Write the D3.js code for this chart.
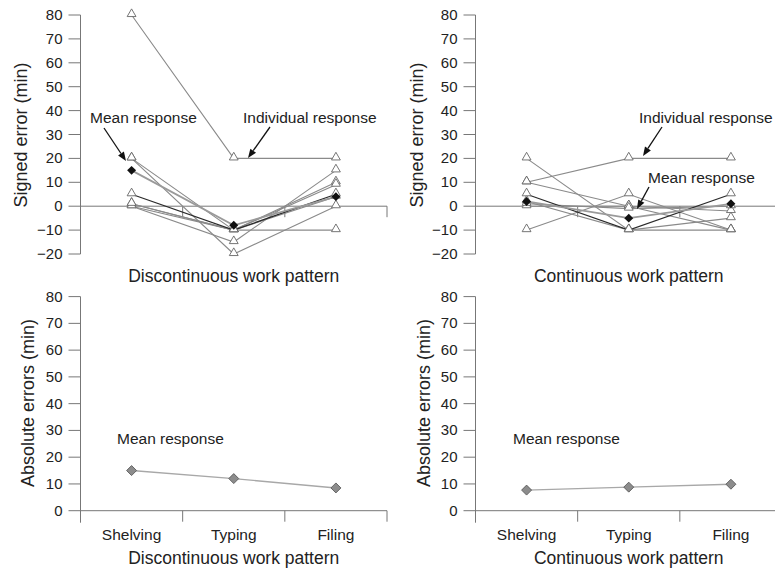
<!DOCTYPE html>
<html>
<head>
<meta charset="utf-8">
<script src="https://cdn.jsdelivr.net/npm/d3@7"></script>
<style>
  body { margin: 0; background: #fff; }
  svg text { font-family: "Liberation Sans", Arial, sans-serif; fill: #222; }
</style>
</head>
<body>
<svg id="chart" width="775" height="574"></svg>
<script>
// categories and ticks
var categories = ["Shelving", "Typing", "Filing"];
var signedTicks = [-20, -10, 0, 10, 20, 30, 40, 50, 60, 70, 80];
var absTicks = [0, 10, 20, 30, 40, 50, 60, 70, 80];

// signed errors, one row per individual (shelving, typing, filing)
var discIndividual = [
    [80, 20, 20],
    [20, -20, 0],
    [20, -10, 10],
    [1, -10, -10],
    [0, -15, 15],
    [0, -10, 9],
    [1, -10, 4]
];
var discDark = [5, -10, 5];
var discMean = [15, -8, 4];

var contIndividual = [
    [10, 20, 20],
    [20, -10, -10],
    [10, 0, -10],
    [-10, 5, -10],
    [2, -10, -5],
    [0, 0, -2],
    [1, -1, 0]
];
var contDark = [5, -10, 5];
var contMean = [2, -5, 1];

// absolute errors, mean response
var absDisc = [15, 12, 8.5];
var absCont = [7.7, 8.8, 9.9];

var svg = d3.select("#chart");
var axisColor = "#777";

var ySigned = d3.scaleLinear().domain([-20, 80]).range([254, 15]);
var yAbs = d3.scaleLinear().domain([0, 80]).range([510.7, 296.6]);

function drawPanel(opt){
    var x = d3.scaleBand().domain(categories).range(opt.xr);
    var y = opt.y;
    var g = svg.append("g");
    var x0 = opt.xr[0];
    var y0 = y(0);

    // y axis
    var yTop = y(opt.ticks[opt.ticks.length - 1]);
    var yBot = opt.signed ? y(opt.ticks[0]) : y0 + 12;
    g.append("line").attr("x1", x0).attr("x2", x0).attr("y1", yTop).attr("y2", yBot)
        .attr("stroke", axisColor);
    opt.ticks.forEach(function(t){
        g.append("line").attr("x1", x0 - 12).attr("x2", x0).attr("y1", y(t)).attr("y2", y(t))
            .attr("stroke", axisColor);
        g.append("text").attr("x", x0 - 18).attr("y", y(t) + 5)
            .attr("text-anchor", "end").attr("font-size", 15)
            .text(t < 0 ? "\u2212" + Math.abs(t) : t);
    });

    // zero line with band ticks
    g.append("line").attr("x1", x0).attr("x2", opt.xr[1]).attr("y1", y0).attr("y2", y0)
        .attr("stroke", axisColor);
    var bounds = [x0, x0 + x.step(), x0 + 2 * x.step(), opt.xr[1]];
    bounds.forEach(function(b){
        g.append("line").attr("x1", b).attr("x2", b).attr("y1", y0).attr("y2", y0 + 11)
            .attr("stroke", axisColor);
    });

    // y title
    g.append("text")
        .attr("transform", "translate(" + opt.ytx + "," + opt.yty + ") rotate(-90)")
        .attr("text-anchor", "middle").attr("font-size", 18)
        .text(opt.ytitle);

    // x title
    var cx = (x0 + x0 + 3 * x.step()) / 2;
    g.append("text").attr("x", cx).attr("y", opt.xty)
        .attr("text-anchor", "middle").attr("font-size", 17.5)
        .text(opt.xtitle);

    if (opt.showCats){
        categories.forEach(function(c){
            g.append("text").attr("x", x(c) + x.bandwidth() / 2).attr("y", 540)
                .attr("text-anchor", "middle").attr("font-size", 15.5).text(c);
        });
    }

    var line = d3.line()
        .x(function(d, i){ return x(categories[i]) + x.bandwidth() / 2; })
        .y(function(d){ return y(d); });

    var tri = d3.symbol().type(d3.symbolTriangle).size(34);
    var sq = d3.symbol().type(d3.symbolSquare);

    if (opt.individual){
        opt.individual.forEach(function(row){
            g.append("path").attr("d", line(row)).attr("fill", "none")
                .attr("stroke", "#8a8a8a").attr("stroke-width", 1.1);
        });
        g.append("path").attr("d", line(opt.dark)).attr("fill", "none")
            .attr("stroke", "#2a2a2a").attr("stroke-width", 1.2);
        g.append("path").attr("d", line(opt.mean)).attr("fill", "none")
            .attr("stroke", "#9a9a9a").attr("stroke-width", 1.8);

        var all = opt.individual.concat([opt.dark]);
        all.forEach(function(row){
            row.forEach(function(v, i){
                g.append("path").attr("d", tri)
                    .attr("transform", "translate(" + (x(categories[i]) + x.bandwidth() / 2) + "," + (y(v) - 1) + ")")
                    .attr("fill", "#fff").attr("stroke", "#666").attr("stroke-width", 0.9);
            });
        });
        opt.mean.forEach(function(v, i){
            g.append("path").attr("d", sq.size(40)())
                .attr("transform", "translate(" + (x(categories[i]) + x.bandwidth() / 2) + "," + y(v) + ") rotate(45)")
                .attr("fill", "#111");
        });
    }

    if (opt.abs){
        g.append("path").attr("d", line(opt.abs)).attr("fill", "none")
            .attr("stroke", "#a8a8a8").attr("stroke-width", 1.4);
        opt.abs.forEach(function(v, i){
            g.append("path").attr("d", sq.size(50)())
                .attr("transform", "translate(" + (x(categories[i]) + x.bandwidth() / 2) + "," + y(v) + ") rotate(45)")
                .attr("fill", "#8c8c8c").attr("stroke", "#555").attr("stroke-width", 0.8);
        });
    }
    return g;
}

function arrow(x1, y1, x2, y2){
    var ang = Math.atan2(y2 - y1, x2 - x1);
    var len = 9, w = 3.5;
    var bx = x2 - len * Math.cos(ang), by = y2 - len * Math.sin(ang);
    svg.append("line").attr("x1", x1).attr("y1", y1).attr("x2", bx).attr("y2", by)
        .attr("stroke", "#111").attr("stroke-width", 1.3);
    var px = -Math.sin(ang) * w, py = Math.cos(ang) * w;
    svg.append("path")
        .attr("d", "M" + x2 + "," + y2 + "L" + (bx + px) + "," + (by + py) + "L" + (bx - px) + "," + (by - py) + "Z")
        .attr("fill", "#111");
}

function label(x, y, txt){
    svg.append("text").attr("x", x).attr("y", y).attr("font-size", 15.5).text(txt);
}

// top left
drawPanel({ xr: [80.5, 387], y: ySigned, ticks: signedTicks, signed: true,
    ytitle: "Signed error (min)", ytx: 27, yty: 135, xtitle: "Discontinuous work pattern", xty: 282,
    individual: discIndividual, dark: discDark, mean: discMean });
// top right
drawPanel({ xr: [475.5, 782], y: ySigned, ticks: signedTicks, signed: true,
    ytitle: "Signed error (min)", ytx: 423, yty: 135, xtitle: "Continuous work pattern", xty: 282,
    individual: contIndividual, dark: contDark, mean: contMean });
// bottom left
drawPanel({ xr: [80.5, 387], y: yAbs, ticks: absTicks, signed: false,
    ytitle: "Absolute errors (min)", ytx: 34, yty: 403, xtitle: "Discontinuous work pattern", xty: 564,
    showCats: true, abs: absDisc });
// bottom right
drawPanel({ xr: [475.5, 782], y: yAbs, ticks: absTicks, signed: false,
    ytitle: "Absolute errors (min)", ytx: 430, yty: 403, xtitle: "Continuous work pattern", xty: 564,
    showCats: true, abs: absCont });

// annotations
label(90, 123, "Mean response");
arrow(104, 128, 126, 161);
label(243, 123, "Individual response");
arrow(270, 127, 248, 158);
label(639, 123, "Individual response");
arrow(662, 127, 643, 156);
label(648, 183, "Mean response");
arrow(649, 187, 637, 209);
label(117, 444, "Mean response");
label(513, 444, "Mean response");
</script>
</body>
</html>
